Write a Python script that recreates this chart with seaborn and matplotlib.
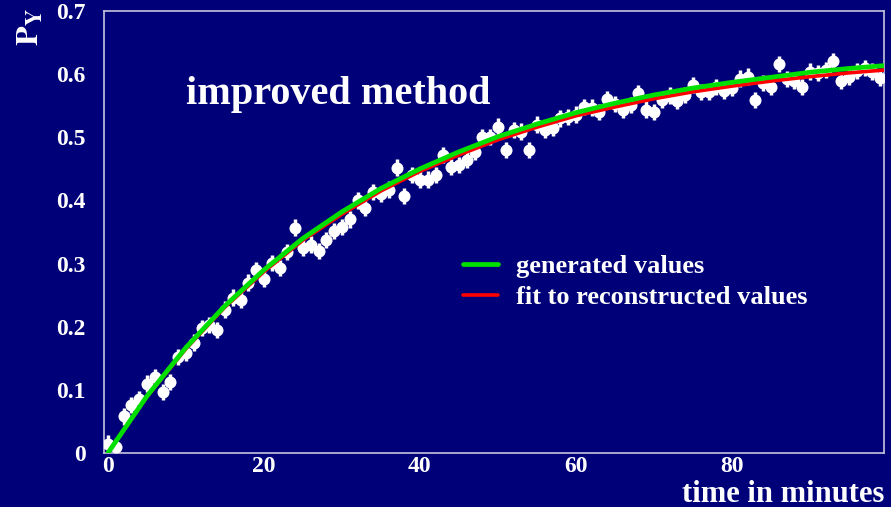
import numpy as np
import pandas as pd
import seaborn as sns
import matplotlib.pyplot as plt
from matplotlib.ticker import MultipleLocator

# measured points (one per minute)
minutes = list(range(100))
py_values = [
    0.015, 0.010, 0.058, 0.076, 0.085, 0.110, 0.120, 0.097, 0.112, 0.152,
    0.158, 0.175, 0.198, 0.203, 0.195, 0.227, 0.246, 0.243, 0.270, 0.290,
    0.276, 0.301, 0.293, 0.318, 0.357, 0.325, 0.330, 0.320, 0.337, 0.352,
    0.358, 0.370, 0.400, 0.388, 0.413, 0.410, 0.417, 0.452, 0.407, 0.440,
    0.433, 0.433, 0.440, 0.472, 0.453, 0.456, 0.464, 0.477, 0.500, 0.500,
    0.517, 0.480, 0.512, 0.509, 0.480, 0.520, 0.512, 0.515, 0.530, 0.532,
    0.536, 0.548, 0.547, 0.540, 0.561, 0.553, 0.544, 0.551, 0.570, 0.544,
    0.540, 0.559, 0.566, 0.558, 0.567, 0.583, 0.572, 0.572, 0.580, 0.574,
    0.578, 0.593, 0.596, 0.559, 0.586, 0.580, 0.616, 0.592, 0.589, 0.580,
    0.604, 0.602, 0.607, 0.621, 0.589, 0.596, 0.605, 0.610, 0.604, 0.594,
]
py_err = 0.013
t_err = 0.5

# curves read every 5 minutes
curve_t = [0, 5, 10, 15, 20, 25, 30, 35, 40, 45, 50, 55, 60, 65, 70, 75, 80, 85, 90, 95, 100]
generated = [0.000, 0.090, 0.167, 0.233, 0.290, 0.340, 0.382, 0.419, 0.450, 0.477,
             0.501, 0.521, 0.539, 0.554, 0.567, 0.578, 0.587, 0.595, 0.603, 0.609, 0.614]
fitted = [0.000, 0.089, 0.165, 0.231, 0.287, 0.337, 0.378, 0.415, 0.446, 0.472,
          0.496, 0.516, 0.534, 0.548, 0.561, 0.572, 0.581, 0.589, 0.596, 0.602, 0.607]

bg = '#000078'
fg = 'white'
axis_col = '#c4c4dc'

sns.set_style('dark')
plt.rcParams['font.family'] = ['Liberation Serif', 'DejaVu Serif']
plt.rcParams['mathtext.fontset'] = 'stix'

points = pd.DataFrame({'t': minutes, 'py': py_values})
curves = pd.DataFrame({'t': curve_t, 'generated': generated, 'fitted': fitted})

fig = plt.figure(figsize=(8.91, 5.07), dpi=100, facecolor=bg)
ax = fig.add_axes([104 / 891, 54 / 507, 780 / 891, 442 / 507])
ax.set_facecolor(bg)

# data with error bars
ax.errorbar(points['t'], points['py'], yerr=py_err, xerr=t_err, fmt='none',
            ecolor=fg, elinewidth=2.5, capsize=0, zorder=2)
sns.scatterplot(data=points, x='t', y='py', ax=ax, color=fg, s=75,
                edgecolor=fg, linewidth=0, zorder=3, legend=False)

# curves
sns.lineplot(data=curves, x='t', y='fitted', ax=ax, color='#ff0000', lw=2.6,
             label='fit to reconstructed values', zorder=4)
sns.lineplot(data=curves, x='t', y='generated', ax=ax, color='#00e000', lw=3.4,
             label='generated values', zorder=5)

ax.set_xlim(-0.5, 99.5)
ax.set_ylim(0, 0.7)
ax.xaxis.set_major_locator(MultipleLocator(20))
ax.xaxis.set_minor_locator(MultipleLocator(5))
ax.yaxis.set_major_locator(MultipleLocator(0.1))
ax.yaxis.set_minor_locator(MultipleLocator(0.02))
ax.yaxis.set_major_formatter(plt.FuncFormatter(lambda v, p: '0' if v == 0 else f'{v:.1f}'))
ax.grid(False)

for s in ax.spines.values():
    s.set_visible(True)
    s.set_color(axis_col)
    s.set_linewidth(1.2)

ax.tick_params(which='both', direction='in', color=axis_col, width=1.2,
               labelcolor=fg, labelsize=17)
ax.tick_params(which='major', length=10)
ax.tick_params(which='minor', length=5)
ax.tick_params(axis='y', pad=13)
ax.tick_params(axis='x', pad=2)
for lab in ax.get_xticklabels() + ax.get_yticklabels():
    lab.set_fontweight('bold')
ax.set_xlabel('')
ax.set_ylabel('')

# axis titles
fig.text(884 / 891, 1 - 494 / 507, 'time in minutes', color=fg, fontsize=22,
         fontweight='bold', ha='right', va='center')
fig.text(31 / 891, 1 - 27 / 507, r'$\mathbf{P_Y}$', color=fg, fontsize=23,
         rotation=90, ha='center', va='center')
ax.text(0.105, 0.81, 'improved method', transform=ax.transAxes, color=fg,
        fontsize=29, fontweight='bold', ha='left', va='center')

# legend, green first
h, l = ax.get_legend_handles_labels()
leg = ax.legend(h[::-1], l[::-1], loc='upper left', bbox_to_anchor=(0.46, 0.449),
                frameon=False, fontsize=19, handlelength=1.35, handletextpad=0.68,
                labelspacing=0.3, borderpad=0, borderaxespad=0)
for txt in leg.get_texts():
    txt.set_color(fg)
    txt.set_fontweight('bold')

fig.savefig('out.png', dpi=100, facecolor=bg)
